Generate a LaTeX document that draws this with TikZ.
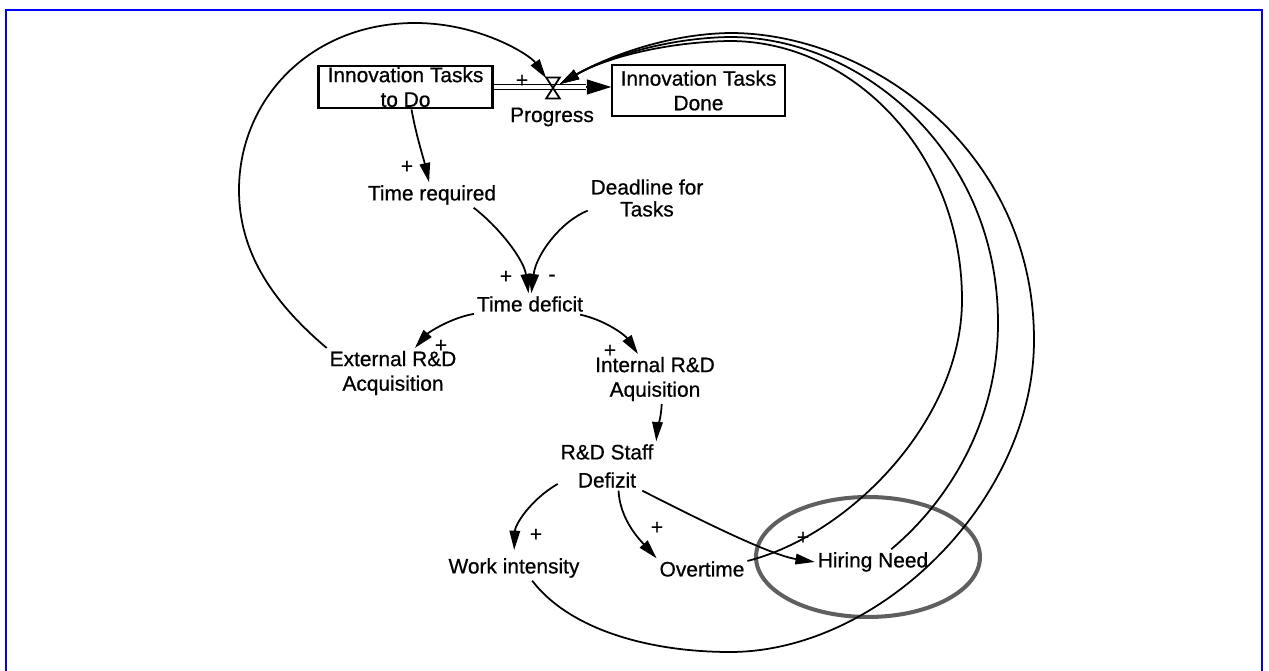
\documentclass[tikz,border=0pt]{standalone}
\usepackage{fontspec}
\setmainfont{Liberation Sans}[FakeBold=0.7]
\usetikzlibrary{arrows.meta}
\begin{document}
\begin{tikzpicture}[x=0.02cm,y=0.02cm,
  lbl/.style={font=\fontsize{11.9pt}{14pt}\selectfont, align=center, inner sep=1.5pt},
  stockbox/.style={draw, line width=1.2pt, lbl, inner sep=0pt},
  link/.style={line width=1pt, -{Triangle[length=11pt,width=6pt]}},
  pipe/.style={line width=0.9pt, double distance=2pt},
  sign/.style={font=\fontsize{11.9pt}{14pt}\selectfont, inner sep=0pt},
  halo/.style={line width=2.3pt, draw={rgb,255:red,95;green,95;blue,95}},
]
\useasboundingbox (0,0) rectangle (1269,-671);
\draw[blue, line width=1.4pt] (6,-690) -- (6,-10) -- (1262,-10) -- (1262,-690);

% stocks and flow
\node[stockbox, minimum width=99pt, minimum height=24.4pt] (todo) at (405.5,-87) {Innovation Tasks\\to Do};
\node[stockbox, minimum width=98pt, minimum height=28.9pt] (done) at (698.5,-90.5) {Innovation Tasks\\Done};
\node[inner sep=0pt, minimum width=7.4pt, minimum height=11.6pt] (valve) at (553,-88) {};
\coordinate (pipeend) at (586,-87);
\draw[pipe] (todo.east) -- (pipeend);
\draw[line width=0.8pt, -{Triangle[length=14pt,width=8.5pt]}] (pipeend) -- (done.west |- pipeend);
\draw[line width=1pt] (valve.north west) -- (valve.north east) -- (valve.south west) -- (valve.south east) -- cycle;
\node[lbl] (progress) at (552,-117) {Progress};

% variables
\node[lbl] (timereq) at (432,-195) {Time required};
\node[lbl, font=\fontsize{11.9pt}{12.5pt}\selectfont] (deadline) at (647,-198) {Deadline for\\Tasks};
\node[lbl] (deficit) at (530,-304) {Time deficit};
\node[lbl] (external) at (393,-373) {External R\&D\\Acquisition};
\node[lbl] (internal) at (655,-379) {Internal R\&D\\Aquisition};
\node[lbl, font=\fontsize{11.9pt}{16pt}\selectfont] (rdstaff) at (607,-466) {R\&D Staff\\Defizit};
\node[lbl] (workint) at (514,-568) {Work intensity};
\node[lbl] (overtime) at (702,-569) {Overtime};
\node[lbl] (hiring) at (873,-562) {Hiring Need};

% highlight ellipse
\draw[halo] (868,-557) ellipse [x radius=2.24cm, y radius=1.2cm];

% links
\draw[link] (todo.-75) .. controls (416,-135) and (424,-160) .. (timereq);
\draw[link] (timereq.-17) .. controls (500,-228) and (524,-260) .. (deficit);
\draw[link] (deadline.192) .. controls (560,-222) and (536,-255) .. (deficit);
\draw[link] (deficit.190) .. controls (450,-318) and (428,-333) .. (external);
\draw[link] (deficit.-12) .. controls (605,-320) and (625,-335) .. (internal);
\draw[link] (internal.-75) .. controls (661,-420) and (657,-430) .. (rdstaff.north east);
\draw[link, shorten >=3pt] (rdstaff.200) .. controls (530,-500) and (515,-525) .. (workint.north);
\draw[link] (rdstaff.-65) .. controls (620,-520) and (640,-540) .. (overtime.north west);
\draw[link] (rdstaff.-35) .. controls (700,-520) and (770,-555) .. (hiring.west);

% feedback loops into the valve
\draw[link] (external.north west) .. controls (270,-300) and (239,-250) .. (239,-190)
  .. controls (239,-100) and (310,-23) .. (415,-23)
  .. controls (480,-23) and (530,-55) .. (valve);
\draw[link] (overtime.10) .. controls (850,-535) and (962,-420) .. (962,-300)
  .. controls (962,-150) and (850,-41) .. (730,-41)
  .. controls (665,-42) and (605,-58) .. (valve);
\draw[link] (hiring.35) .. controls (950,-500) and (998,-420) .. (998,-323)
  .. controls (998,-150) and (860,-37) .. (730,-37)
  .. controls (665,-38) and (605,-58) .. (valve);
\draw[link] (workint.-35) .. controls (570,-630) and (650,-652) .. (730,-652)
  .. controls (880,-652) and (1034,-500) .. (1034,-340)
  .. controls (1034,-150) and (870,-33) .. (730,-33)
  .. controls (665,-34) and (605,-58) .. (valve);

% polarities
\node[sign] (p1) at (522,-81) {+};
\node[sign] (p2) at (407,-167) {+};
\node[sign] (p3) at (506,-277) {+};
\node[sign] (p4) at (552,-278) {-};
\node[sign] (p5) at (441,-346) {+};
\node[sign] (p6) at (610,-351) {+};
\node[sign] (p7) at (536,-535) {+};
\node[sign] (p8) at (657,-528) {+};
\node[sign] (p9) at (803,-538) {+};
\end{tikzpicture}
\end{document}
